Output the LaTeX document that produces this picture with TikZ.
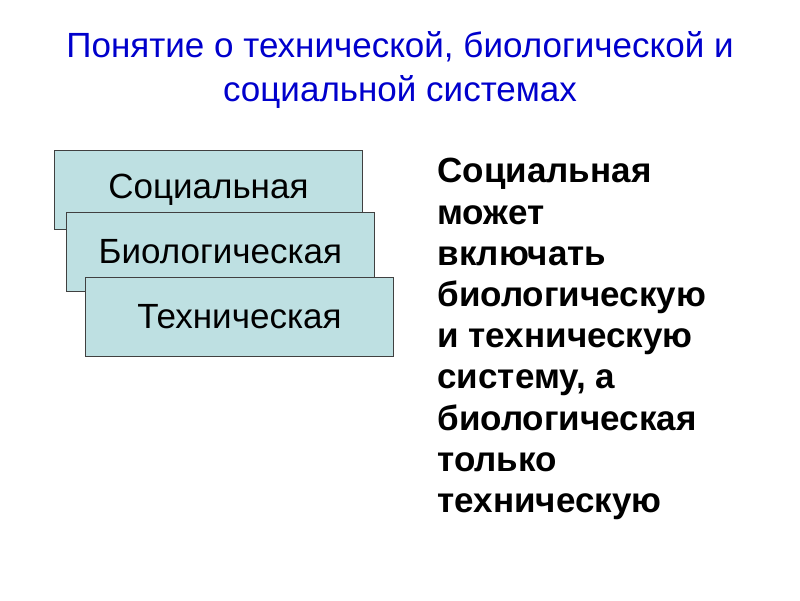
\documentclass[tikz,border=0pt]{standalone}
\usepackage{fontspec}
\setmainfont{Liberation Sans}
\definecolor{boxfill}{RGB}{190,224,226}
\definecolor{ttlblue}{RGB}{0,0,204}
\begin{document}
\begin{tikzpicture}[x=1pt,y=-1pt,
 sbox/.style={draw=black!75,line width=0.8pt,fill=boxfill,minimum width=308pt,minimum height=79pt,inner sep=0pt,font=\fontsize{35}{38}\selectfont},
 ttl/.style={text=ttlblue,font=\fontsize{35}{44}\selectfont,align=center}]
\useasboundingbox (0,0) rectangle (800,600);
\node[ttl] (title) at (400,70) {Понятие о технической, биологической и\\социальной системах};
\node[sbox,anchor=north west] (soc) at (54,150) {Социальная};
\node[sbox,anchor=north west] (bio) at (66,212) {Биологическая};
\node[sbox,anchor=north west] (tech) at (85,277) {Техническая};
\node[anchor=north west,align=left,font=\bfseries\fontsize{35}{41.2}\selectfont] (txt) at (434,155) {Социальная\\может\\включать\\биологическую\\и техническую\\систему, а\\биологическая\\только\\техническую};
\end{tikzpicture}
\end{document}
